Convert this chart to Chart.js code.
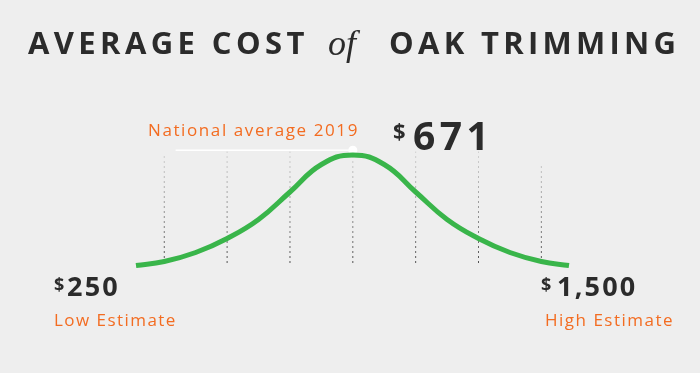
<!DOCTYPE html>
<html>
<head>
<meta charset="utf-8">
<script src="https://cdn.jsdelivr.net/npm/chart.js@4"></script>
<style>
  html, body { margin: 0; padding: 0; background: #eeeeee; }
  #wrap { width: 700px; height: 373px; position: relative; }
  canvas { display: block; }
</style>
</head>
<body>
<div id="wrap"><canvas id="c" width="700" height="373"></canvas></div>
<script>
// ---- data ----
const titleParts = ["AVERAGE COST", "of", "OAK TRIMMING"];
const lowValue = 250;
const avgValue = 671;
const highValue = 1500;
const avgLabel = "National average 2019";
const lowLabel = "Low Estimate";
const highLabel = "High Estimate";

// bell curve (position along the axis, relative height)
const curveX = [0.55, 1, 1.5, 2, 2.5, 3, 3.5, 4, 4.5, 5, 5.5, 6, 6.5, 7, 7.44];
const curveY = [0, 4, 13, 27, 46, 73.5, 101, 110.5, 101, 73.5, 46, 27, 13, 4, 0];

// dashed guide lines
const gridX = [1, 2, 3, 4, 5, 6, 7];
const gridTop = [110.5, 114, 114, 115.5, 114, 114, 102.5];
const gridBottom = 2.5;

// white marker line to the national average
const refX = [1.18, 4];
const refY = 115.3;

const fmt = v => v.toLocaleString('en-US');

const curveData = curveX.map((x, i) => ({ x, y: curveY[i] }));

function dashGradient(context) {
  const chart = context.chart;
  const area = chart.chartArea;
  if (!area) return 'rgba(80,80,80,0.6)';
  const g = chart.ctx.createLinearGradient(0, area.bottom, 0, area.top);
  g.addColorStop(0, 'rgba(50,50,50,0.85)');
  g.addColorStop(1, 'rgba(90,90,90,0.15)');
  return g;
}

const datasets = [{
  label: 'curve',
  data: curveData,
  borderColor: '#39b54a',
  borderWidth: 5,
  pointRadius: 0,
  tension: 0.45,
  fill: false,
  clip: false,
  order: 0
}, {
  label: 'ref',
  data: refX.map(x => ({ x, y: refY })),
  borderColor: '#ffffff',
  borderWidth: 1.5,
  pointRadius: [0, 4.5],
  pointBackgroundColor: '#ffffff',
  pointBorderWidth: 0,
  clip: false,
  order: 1
}];

gridX.forEach((x, i) => {
  datasets.push({
    label: 'grid' + i,
    data: [{ x, y: gridBottom }, { x, y: gridTop[i] }],
    borderColor: dashGradient,
    borderWidth: 1,
    borderDash: [2, 3],
    pointRadius: 0,
    clip: false,
    order: 2
  });
});

const textPlugin = {
  id: 'texts',
  afterDraw(chart) {
    const c = chart.ctx;
    c.save();
    c.textBaseline = 'alphabetic';
    c.textAlign = 'left';
    const dark = '#2b2b2b';
    const orange = '#f36c21';
    function txt(s, x, y, font, color, spacing) {
      c.font = font;
      c.fillStyle = color;
      c.letterSpacing = (spacing || 0) + 'px';
      c.fillText(s, x, y);
    }
    // title
    txt(titleParts[0], 28, 54, '700 31px "Open Sans"', dark, 4.4);
    txt(titleParts[1], 328, 55, 'italic 400 36px "Liberation Serif"', dark, 0);
    txt(titleParts[2], 389, 54, '700 31px "Open Sans"', dark, 4.3);

    // national average
    txt(avgLabel, 148, 136, '400 17px "Open Sans"', orange, 1.6);
    txt('$', 393, 139, '700 22px "Open Sans"', dark, 0);
    txt(fmt(avgValue), 413, 150, '700 39px "Open Sans"', dark, 4.5);

    // low
    txt('$', 54, 291, '700 18px "Open Sans"', dark, 0);
    txt(fmt(lowValue), 67, 296, '700 27px "Open Sans"', dark, 2.2);
    txt(lowLabel, 54, 326, '400 17px "Open Sans"', orange, 1.45);

    // high
    txt('$', 541, 291, '700 18px "Open Sans"', dark, 0);
    txt(fmt(highValue), 557, 296, '700 27px "Open Sans"', dark, 2.2);
    txt(highLabel, 545, 326, '400 17px "Open Sans"', orange, 1.5);
    c.restore();
  }
};

new Chart(document.getElementById('c'), {
  type: 'line',
  data: { datasets },
  options: {
    responsive: false,
    devicePixelRatio: 1,
    animation: false,
    layout: { padding: { left: 136, right: 131, top: 145.5, bottom: 107.5 } },
    scales: {
      x: { type: 'linear', min: 0.55, max: 7.44, display: false },
      y: { type: 'linear', min: 0, max: 120, display: false }
    },
    plugins: { legend: { display: false }, tooltip: { enabled: false } }
  },
  plugins: [textPlugin]
});
</script>
</body>
</html>
